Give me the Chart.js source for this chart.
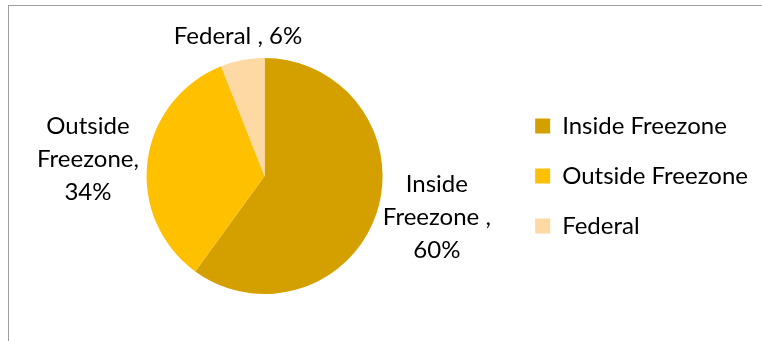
<!DOCTYPE html>
<html>
<head>
<meta charset="utf-8">
<script src="https://cdn.jsdelivr.net/npm/chart.js@4/dist/chart.umd.min.js"></script>
<style>
  html, body { margin: 0; padding: 0; background: #fff; overflow: hidden; }
  #frame { position: absolute; left: 8px; top: 5px; width: 1000px; height: 1000px;
           border-left: 1px solid #a0a0a0; border-top: 1px solid #a0a0a0; }
  #wrap { position: absolute; left: 0; top: 0; width: 762px; height: 341px; }
</style>
</head>
<body>
<div id="frame"></div>
<div id="wrap"><canvas id="c" width="762" height="341"></canvas></div>
<script>
const categories = ["Inside Freezone", "Outside Freezone", "Federal"];
const shares = [60, 34, 6];
const labelLines = [["Inside", "Freezone ,", "60%"], ["Outside", "Freezone,", "34%"], ["Federal , 6%"]];
const colors = ["#D4A000", "#FFC000", "#FFD9A3"];

const FONT = "Lato, 'Open Sans', sans-serif";

const pieLabels = {
  id: 'pieLabels',
  afterDatasetsDraw(chart, args, opts) {
    const ctx = chart.ctx;
    const meta = chart.getDatasetMeta(0);
    ctx.save();
    ctx.font = opts.size + 'px ' + FONT;
    ctx.fillStyle = '#000';
    ctx.textAlign = 'center';
    ctx.textBaseline = 'middle';
    meta.data.forEach((arc, i) => {
      const mid = (arc.startAngle + arc.endAngle) / 2;
      const r = arc.outerRadius + opts.gap[i];
      const cx = arc.x + Math.cos(mid) * r + opts.shiftX[i];
      const cy = arc.y + Math.sin(mid) * r + opts.shiftY[i];
      const lines = labelLines[i];
      const h = opts.lineHeight;
      const y0 = cy - (lines.length - 1) * h / 2;
      lines.forEach((t, k) => ctx.fillText(t, cx, y0 + k * h));
    });
    ctx.restore();
  }
};

new Chart(document.getElementById('c'), {
  type: 'pie',
  data: {
    labels: categories,
    datasets: [{
      data: shares,
      backgroundColor: colors,
      borderWidth: 0
    }]
  },
  options: {
    responsive: false,
    animation: false,
    rotation: 0,
    layout: { padding: { top: 58, bottom: 47, left: 20, right: 4 } },
    plugins: {
      tooltip: { enabled: false },
      legend: {
        position: 'right',
        align: 'center',
        labels: {
          boxWidth: 15,
          boxHeight: 15,
          padding: 26,
          color: '#000',
          font: { family: FONT, size: 24 }
        }
      },
      pieLabels: {
        size: 24,
        lineHeight: 33,
        gap: [60, 60, 24],
        shiftX: [3, 0, 0],
        shiftY: [-14, 6, 0]
      }
    }
  },
  plugins: [pieLabels]
});
</script>
</body>
</html>
